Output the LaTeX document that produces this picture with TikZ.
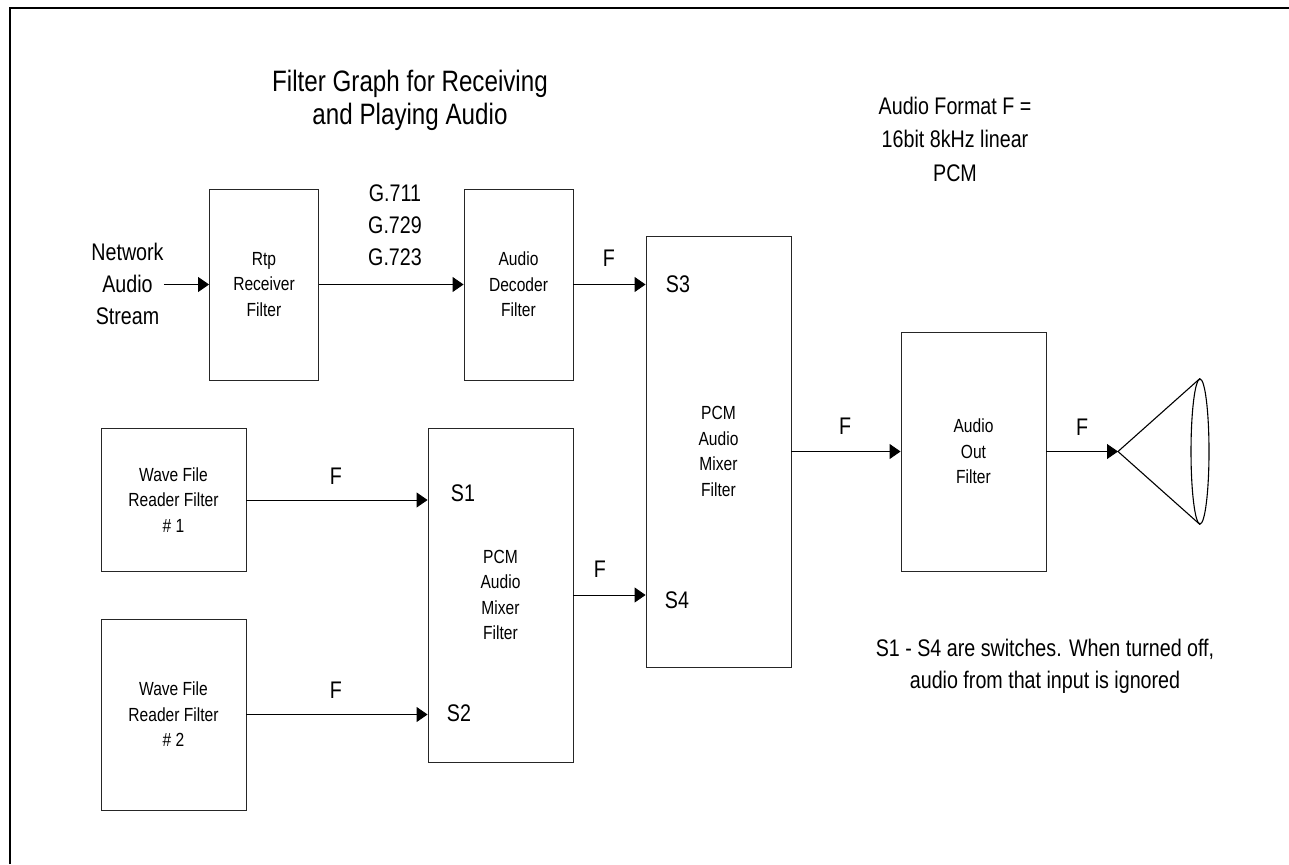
\documentclass[tikz,border=0pt]{standalone}
\usepackage{fontspec}
\setmainfont[FakeStretch=0.82]{Liberation Sans}
\usetikzlibrary{arrows.meta,shapes.geometric}
\tikzset{
  filterbox/.style={draw=black!85,line width=0.9pt,rectangle,inner sep=0pt,align=center,font=\fontsize{19}{25.5}\selectfont},
  conn/.style={draw=black,line width=0.9pt,-{Triangle[length=11pt,width=15pt]}},
  label/.style={inner sep=0pt,align=center,font=\fontsize{24}{32}\selectfont},
}
\begin{document}
\begin{tikzpicture}[x=1pt,y=-1pt]
\useasboundingbox (0,0) rectangle (1289,864);
\coordinate (fa) at (10,864);
\coordinate (fb) at (10,8);
\coordinate (fc) at (1289,8);
\draw[line width=2.2pt] (fa) -- (fb) -- (fc);

\node[filterbox,minimum width=109pt,minimum height=191pt] (rtp) at (264,284.5) {Rtp\\Receiver\\Filter};
\node[filterbox,minimum width=109pt,minimum height=191pt] (dec) at (518.5,284.5) {Audio\\Decoder\\Filter};
\node[filterbox,minimum width=145pt,minimum height=431pt] (big) at (718.5,451.5) {PCM\\Audio\\Mixer\\Filter};
\node[filterbox,minimum width=145pt,minimum height=334pt] (small) at (500.5,595) {PCM\\Audio\\Mixer\\Filter};
\node[filterbox,minimum width=145pt,minimum height=143pt] (w1) at (173.5,500) {Wave File\\Reader Filter\\\# 1};
\node[filterbox,minimum width=145pt,minimum height=191pt] (w2) at (173.5,714.5) {Wave File\\Reader Filter\\\# 2};
\node[filterbox,minimum width=145pt,minimum height=239pt] (out) at (973.5,451.5) {Audio\\Out\\Filter};

\node[label] (net) at (127.5,284) {Network\\Audio\\Stream};
\node[label] (codec) at (395,225) {G.711\\G.729\\G.723};
\node[label,font=\fontsize{29.5}{33}\selectfont] (title) at (410,100) {Filter Graph for Receiving\\and Playing Audio};
\node[label,font=\fontsize{24}{33.5}\selectfont] (fmt) at (955,139) {Audio Format F =\\16bit 8kHz linear\\PCM};
\node[label] (note) at (1045,666) {S1 - S4 are switches. When turned off,\\audio from that input is ignored};

\node[label] (f1) at (609,258) {F};
\node[label] (f2) at (600,569) {F};
\node[label] (f3) at (336,476) {F};
\node[label] (f4) at (336,690) {F};
\node[label] (f5) at (845,426) {F};
\node[label] (f6) at (1082,427) {F};
\node[label] (s1) at (463,493) {S1};
\node[label] (s2) at (459,713) {S2};
\node[label] (s3) at (678,284) {S3};
\node[label] (s4) at (677,600) {S4};

\node[draw=black,line width=1.1pt,ellipse,inner sep=0pt,minimum width=18pt,minimum height=145pt] (cone) at (1200,451.5) {};
\coordinate (apex) at (1118,451.5);

\draw[conn] (net.east |- rtp.west) -- (rtp.west);
\draw[conn] (rtp.east) -- (dec.west);
\draw[conn] (dec.east) -- (dec.east -| big.west);
\draw[conn] (w1.east) -- (w1.east -| small.west);
\draw[conn] (w2.east) -- (w2.east -| small.west);
\draw[conn] (small.east) -- (small.east -| big.west);
\draw[conn] (big.east) -- (out.west);
\draw[conn] (out.east) -- (apex);
\draw[line width=1.1pt] (cone.north) -- (apex) -- (cone.south);
\end{tikzpicture}
\end{document}
